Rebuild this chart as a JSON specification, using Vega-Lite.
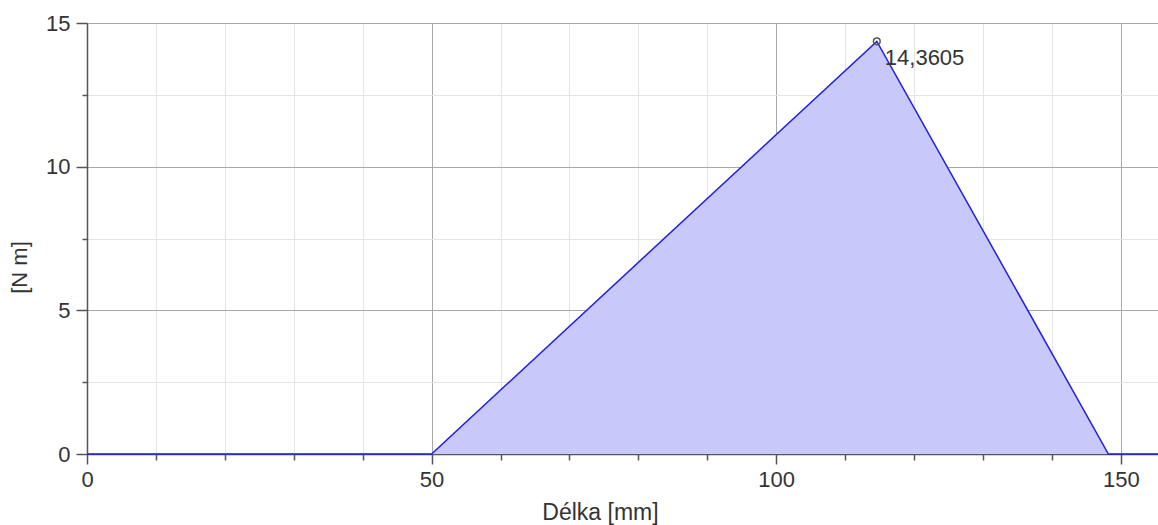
{
  "$schema": "https://vega.github.io/schema/vega-lite/v6.json",
  "width": 1071,
  "height": 431,
  "autosize": {"type": "none"},
  "padding": {"left": 87, "top": 23, "right": 0, "bottom": 71},
  "background": "white",
  "config": {
    "view": {"stroke": null},
    "locale": {
      "number": {"decimal": ",", "thousands": " ", "grouping": [3], "currency": ["", " Kč"]}
    },
    "axis": {
      "labelFont": "Liberation Sans",
      "titleFont": "Liberation Sans",
      "labelColor": "#333333",
      "titleColor": "#333333",
      "titleFontWeight": "normal",
      "labelFontSize": 22,
      "titleFontSize": 22,
      "domainColor": "#555555",
      "domainWidth": 1.5,
      "tickColor": "#555555",
      "tickWidth": 1.5
    }
  },
  "data": {
    "values": [
      {"delka": 0, "m": 0},
      {"delka": 50, "m": 0},
      {"delka": 114.6, "m": 14.3605},
      {"delka": 148.2, "m": 0},
      {"delka": 155.4, "m": 0}
    ]
  },
  "encoding": {
    "x": {
      "field": "delka",
      "type": "quantitative",
      "scale": {"domain": [0, 155.4], "nice": false, "zero": false},
      "axis": {
        "title": "Délka [mm]",
        "values": [0, 10, 20, 30, 40, 50, 60, 70, 80, 90, 100, 110, 120, 130, 140, 150],
        "labelExpr": "datum.value % 50 === 0 ? datum.label : ''",
        "grid": true,
        "gridColor": {"condition": {"test": "datum.value % 50 === 0", "value": "#a8a8a8"}, "value": "#e4e4e4"},
        "gridWidth": 1,
        "tickSize": {"condition": {"test": "datum.value % 50 === 0", "value": 10}, "value": 6},
        "labelPadding": 5,
        "labelFlush": false,
        "titleFontSize": 23,
        "titleX": 513,
        "titleY": 58,
        "titleBaseline": "middle"
      }
    },
    "y": {
      "field": "m",
      "type": "quantitative",
      "scale": {"domain": [0, 15], "nice": false},
      "axis": {
        "title": "[N m]",
        "values": [0, 2.5, 5, 7.5, 10, 12.5, 15],
        "labelExpr": "datum.value % 5 === 0 ? datum.label : ''",
        "grid": true,
        "gridColor": {"condition": {"test": "datum.value % 5 === 0", "value": "#a8a8a8"}, "value": "#e4e4e4"},
        "gridWidth": 1,
        "tickSize": {"condition": {"test": "datum.value % 5 === 0", "value": 11}, "value": 5},
        "labelPadding": 6,
        "titleX": -68,
        "titleY": 244,
        "titleBaseline": "middle"
      }
    }
  },
  "layer": [
    {"mark": {"type": "area", "color": "#c8c8fa", "opacity": 1}},
    {"mark": {"type": "line", "color": "#2020e0", "strokeWidth": 1.5}},
    {
      "transform": [{"filter": "datum.m > 0"}],
      "mark": {"type": "point", "shape": "circle", "size": 45, "filled": false, "stroke": "#555555", "strokeWidth": 1.5, "opacity": 1}
    },
    {
      "transform": [{"filter": "datum.m > 0"}],
      "mark": {"type": "text", "align": "left", "baseline": "middle", "dx": 8, "dy": 17, "font": "Liberation Sans", "fontSize": 22, "color": "#333333"},
      "encoding": {"text": {"field": "m", "type": "quantitative", "format": ".4f"}}
    }
  ]
}
